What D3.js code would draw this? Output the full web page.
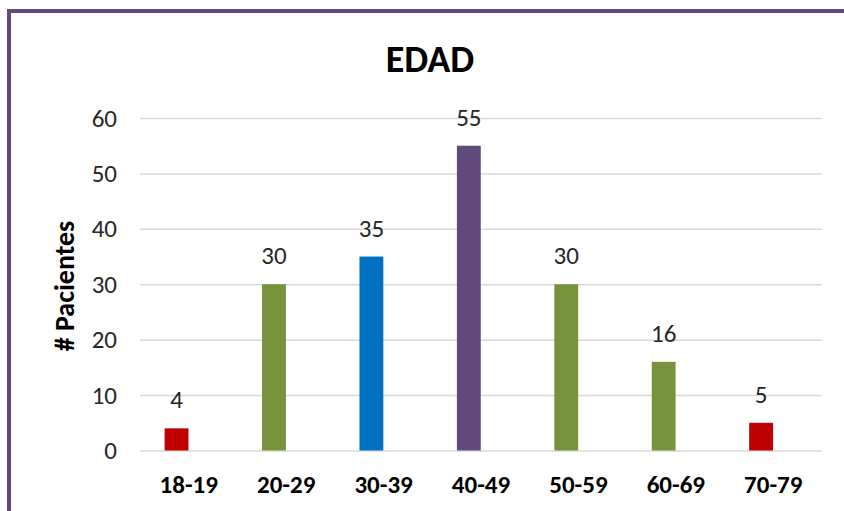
<!DOCTYPE html>
<html>
<head>
<meta charset="utf-8">
<script src="https://cdn.jsdelivr.net/npm/d3@7"></script>
<style>
  body { margin: 0; background: #fff; }
  svg { display: block; }
  text { font-family: Calibri, Carlito, "Liberation Sans", Arial, sans-serif; }
</style>
</head>
<body>
<svg id="chart" width="844" height="511"></svg>
<script>
// datos del grafico
var categorias = ["18-19", "20-29", "30-39", "40-49", "50-59", "60-69", "70-79"];
var pacientes = [4, 30, 35, 55, 30, 16, 5];
var colores = ["#C00000", "#77933C", "#0070C0", "#604A7B", "#77933C", "#77933C", "#C00000"];
var ticksY = [0, 10, 20, 30, 40, 50, 60];

var svg = d3.select("#chart");
var W = 844, H = 511;
var izq = 140, der = 822, arriba = 118, abajo = 450.5;

// marco morado
svg.append("line")
  .attr("x1", 9).attr("y1", 9).attr("x2", 9).attr("y2", H)
  .attr("stroke", "#604A7B").attr("stroke-width", 4);
svg.append("line")
  .attr("x1", 7).attr("y1", 11).attr("x2", W).attr("y2", 11)
  .attr("stroke", "#604A7B").attr("stroke-width", 4);

var x = d3.scaleBand().domain(categorias).range([izq, der]);
var y = d3.scaleLinear().domain([0, 60]).range([abajo, arriba]);

// lineas de la cuadricula
var yAxis = d3.axisLeft(y).tickValues(ticksY).tickSize(-(der - izq)).tickPadding(23);
var gy = svg.append("g").attr("transform", "translate(" + izq + ",0)").call(yAxis);
gy.select(".domain").remove();
gy.selectAll(".tick line").attr("stroke", "#d9d9d9").attr("stroke-width", 1.5);
gy.selectAll(".tick text")
  .attr("fill", "#262626")
  .style("font-size", "25px");

var xAxis = d3.axisBottom(x).tickSize(0).tickPadding(25);
var gx = svg.append("g").attr("transform", "translate(0," + abajo + ")").call(xAxis);
gx.select(".domain").remove();
gx.selectAll(".tick text")
  .attr("fill", "#000")
  .style("font-size", "25px")
  .style("font-weight", "bold");

// barras (algo corridas a la izquierda dentro de cada categoria)
var anchoBarra = x.bandwidth() * 0.245;
var corrimiento = -x.bandwidth() * 0.125;
function centro(d) { return x(d) + x.bandwidth() / 2 + corrimiento; }

svg.selectAll("rect.barra")
  .data(pacientes)
  .enter().append("rect")
  .attr("class", "barra")
  .attr("x", function(d, i) { return centro(categorias[i]) - anchoBarra / 2; })
  .attr("y", function(d) { return y(d); })
  .attr("width", anchoBarra)
  .attr("height", function(d) { return y(0) - y(d); })
  .attr("fill", function(d, i) { return colores[i]; });

// etiquetas de valores
svg.selectAll("text.valor")
  .data(pacientes)
  .enter().append("text")
  .attr("class", "valor")
  .attr("x", function(d, i) { return centro(categorias[i]); })
  .attr("y", function(d) { return y(d) - 20; })
  .attr("text-anchor", "middle")
  .attr("fill", "#262626")
  .style("font-size", "25px")
  .text(function(d) { return d; });

// titulo
svg.append("text")
  .attr("x", 430).attr("y", 72)
  .attr("text-anchor", "middle")
  .style("font-size", "38px")
  .style("font-weight", "bold")
  .text("EDAD");

// titulo eje Y
svg.append("text")
  .attr("transform", "translate(74,286) rotate(-90)")
  .attr("text-anchor", "middle")
  .style("font-size", "28px")
  .style("font-weight", "bold")
  .text("# Pacientes");
</script>
</body>
</html>
